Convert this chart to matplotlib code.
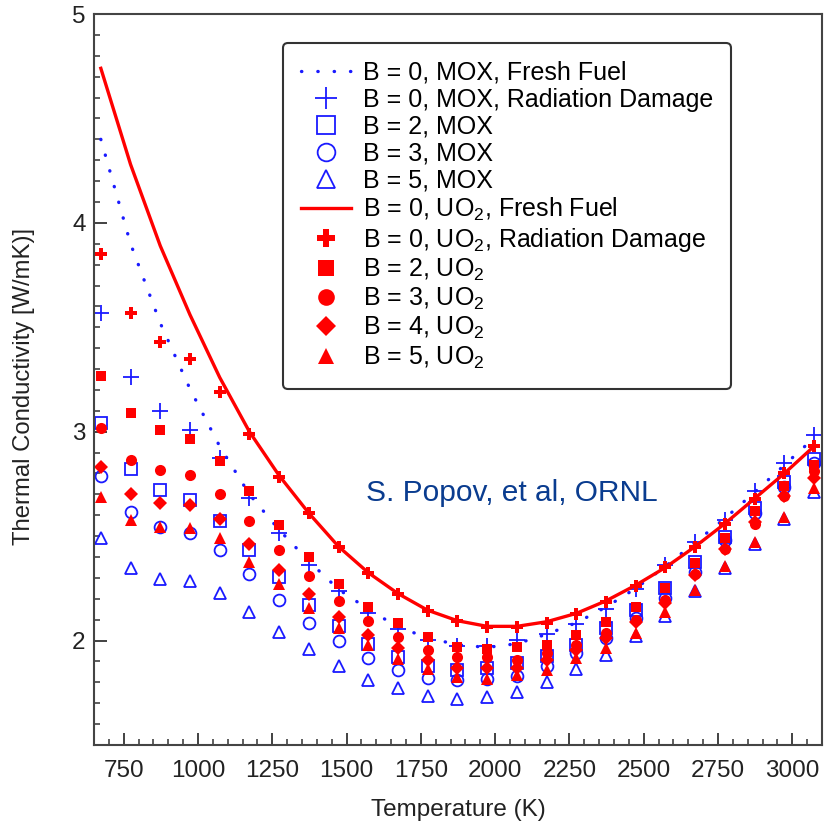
import matplotlib
matplotlib.use("Agg")
import matplotlib.pyplot as plt
from matplotlib.ticker import MultipleLocator

plt.rcParams['font.family'] = ['Liberation Sans', 'DejaVu Sans']
plt.rcParams['mathtext.fontset'] = 'custom'
plt.rcParams['mathtext.rm'] = 'Liberation Sans'

# temperatures (K)
temps = [673, 773, 873, 973, 1073, 1173, 1273, 1373, 1473, 1573, 1673, 1773, 1873,
         1973, 2073, 2173, 2273, 2373, 2473, 2573, 2673, 2773, 2873, 2973, 3073]

# MOX
mox_fresh = [4.40, 3.90, 3.52, 3.205, 2.93, 2.70, 2.53, 2.38, 2.245, 2.15, 2.065, 2.013, 1.98,
             1.967, 1.985, 2.03, 2.085, 2.16, 2.25, 2.355, 2.47, 2.585, 2.71, 2.84, 2.97]
mox_rad = [3.57, 3.26, 3.10, 3.01, 2.875, 2.683, 2.513, 2.362, 2.235, 2.134, 2.056, 2.003, 1.975,
           1.975, 2.005, 2.03, 2.078, 2.15, 2.245, 2.36, 2.474, 2.578, 2.718, 2.849, 2.985]
mox_b2 = [3.04, 2.82, 2.72, 2.674, 2.572, 2.434, 2.306, 2.171, 2.072, 1.984, 1.92, 1.879, 1.86,
          1.868, 1.892, 1.924, 1.98, 2.06, 2.147, 2.25, 2.378, 2.498, 2.634, 2.761, 2.87]
mox_b3 = [2.79, 2.615, 2.546, 2.514, 2.434, 2.318, 2.195, 2.086, 1.999, 1.916, 1.86, 1.823, 1.81,
          1.815, 1.828, 1.876, 1.94, 2.01, 2.107, 2.205, 2.33, 2.48, 2.61, 2.737, 2.85]
mox_b5 = [2.49, 2.347, 2.295, 2.286, 2.23, 2.139, 2.043, 1.959, 1.876, 1.812, 1.772, 1.735, 1.72,
          1.732, 1.756, 1.80, 1.865, 1.932, 2.022, 2.118, 2.235, 2.347, 2.463, 2.58, 2.713]

# UO2
uo2_fresh = [4.74, 4.28, 3.89, 3.56, 3.26, 3.00, 2.79, 2.61, 2.45, 2.325, 2.225, 2.145, 2.095,
             2.068, 2.068, 2.09, 2.13, 2.19, 2.265, 2.35, 2.45, 2.56, 2.68, 2.80, 2.93]
uo2_rad = [3.85, 3.57, 3.43, 3.35, 3.19, 2.99, 2.785, 2.61, 2.45, 2.325, 2.224, 2.14, 2.095,
           2.066, 2.066, 2.085, 2.128, 2.186, 2.26, 2.35, 2.45, 2.56, 2.68, 2.80, 2.93]
uo2_b2 = [3.268, 3.09, 3.009, 2.966, 2.86, 2.717, 2.554, 2.40, 2.271, 2.163, 2.083, 2.019, 1.971,
          1.959, 1.967, 1.98, 2.027, 2.091, 2.162, 2.25, 2.37, 2.49, 2.618, 2.74, 2.84]
uo2_b3 = [3.017, 2.865, 2.817, 2.793, 2.703, 2.573, 2.434, 2.31, 2.187, 2.094, 2.019, 1.955, 1.92,
          1.92, 1.907, 1.94, 1.98, 2.035, 2.10, 2.195, 2.32, 2.44, 2.56, 2.69, 2.81]
uo2_b4 = [2.833, 2.70, 2.66, 2.65, 2.583, 2.463, 2.34, 2.224, 2.115, 2.027, 1.964, 1.908, 1.868,
          1.868, 1.868, 1.908, 1.956, 2.01, 2.09, 2.18, 2.315, 2.44, 2.57, 2.69, 2.78]
uo2_b5 = [2.685, 2.575, 2.546, 2.538, 2.49, 2.378, 2.271, 2.155, 2.06, 1.98, 1.911, 1.863, 1.825,
          1.815, 1.836, 1.86, 1.916, 1.964, 2.035, 2.139, 2.243, 2.355, 2.474, 2.594, 2.73]

blue = '#1a1aff'
red = '#ff0000'

fig = plt.figure(figsize=(8.26, 8.25), dpi=100)
ax = fig.add_axes([0.1138, 0.097, 0.8814, 0.886])

# MOX series
ax.plot(temps, mox_fresh, color=blue, lw=2.4, linestyle=(0, (0.1, 4.8)),
        dash_capstyle='round', label='B = 0, MOX, Fresh Fuel')
ax.plot(temps, mox_rad, '+', color=blue, ms=11, mew=1.3, label='B = 0, MOX, Radiation Damage')
ax.plot(temps, mox_b2, 's', mfc='none', mec=blue, ms=8.5, mew=1.3, label='B = 2, MOX')
ax.plot(temps, mox_b3, 'o', mfc='none', mec=blue, ms=8.5, mew=1.3, label='B = 3, MOX')
ax.plot(temps, mox_b5, '^', mfc='none', mec=blue, ms=8.5, mew=1.3, label='B = 5, MOX')

# UO2 series
ax.plot(temps, uo2_fresh, '-', color=red, lw=2.4, label='B = 0, UO$_\\mathregular{2}$, Fresh Fuel')
ax.plot(temps, uo2_rad, 'P', color=red, ms=9, mew=0, label='B = 0, UO$_\\mathregular{2}$, Radiation Damage')
ax.plot(temps, uo2_b2, 's', color=red, ms=7.5, mew=0, label='B = 2, UO$_\\mathregular{2}$')
ax.plot(temps, uo2_b3, 'o', color=red, ms=8, mew=0, label='B = 3, UO$_\\mathregular{2}$')
ax.plot(temps, uo2_b4, 'D', color=red, ms=7, mew=0, label='B = 4, UO$_\\mathregular{2}$')
ax.plot(temps, uo2_b5, '^', color=red, ms=8, mew=0, label='B = 5, UO$_\\mathregular{2}$')

ax.set_xlim(650, 3100)
ax.set_ylim(1.5, 5)
ax.xaxis.set_major_locator(MultipleLocator(250))
ax.xaxis.set_minor_locator(MultipleLocator(50))
ax.yaxis.set_major_locator(MultipleLocator(1))
ax.yaxis.set_minor_locator(MultipleLocator(0.1))
ax.set_xticks([750, 1000, 1250, 1500, 1750, 2000, 2250, 2500, 2750, 3000])
ax.tick_params(which='both', direction='in', top=False, right=False,
               labelsize=17.5, colors='#333333', labelcolor='#222222')
ax.tick_params(which='major', length=9, width=1.3)
ax.tick_params(which='minor', length=4.5, width=1.1)
ax.tick_params(axis='y', which='major', pad=6)
ax.tick_params(axis='x', which='major', pad=11)
for s in ax.spines.values():
    s.set_color('#444444')
    s.set_linewidth(1.5)

ax.set_xlabel('Temperature (K)', fontsize=17.5, color='#222222', labelpad=12)
ax.set_ylabel('Thermal Conductivity [W/mK)]', fontsize=17.2, color='#222222')
ax.yaxis.set_label_coords(-0.081, 0.49)

ax.text(0.373, 0.345, 'S. Popov, et al, ORNL', transform=ax.transAxes,
        fontsize=21.5, color='#0a3c8f', ha='left', va='center')

leg = ax.legend(loc='upper left', bbox_to_anchor=(0.26, 0.961), fontsize=18,
                frameon=True, fancybox=True, edgecolor='#333333', framealpha=1,
                handlelength=2.0, handletextpad=0.45, labelspacing=0.12,
                borderpad=0.72, borderaxespad=0, markerscale=1.5)
leg.get_frame().set_linewidth(1.5)

fig.savefig('out.png', dpi=100)
